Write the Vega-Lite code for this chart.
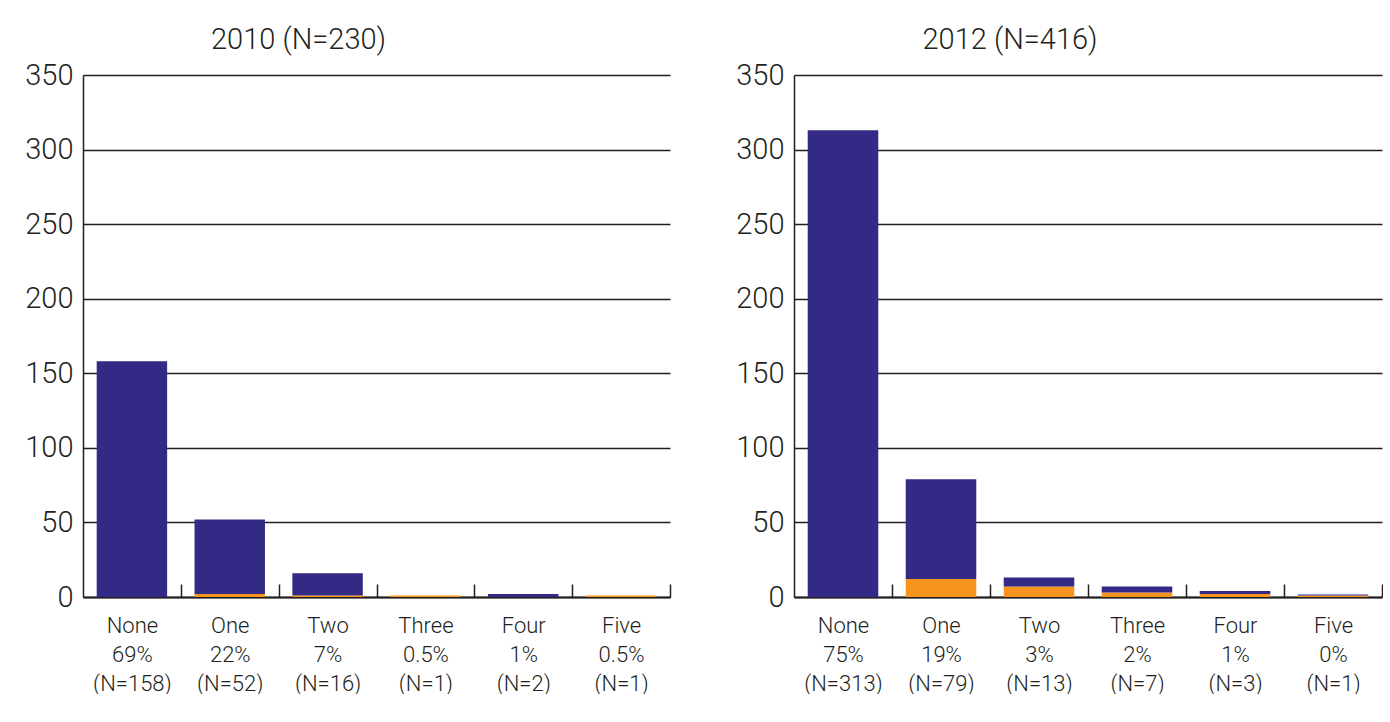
{
  "$schema": "https://vega.github.io/schema/vega-lite/v6.json",
  "padding": {"left": 24, "top": 26, "right": 0, "bottom": 0},
  "background": "white",
  "datasets": {
    "y2010": [
      {"cat": "None|69%|(N=158)", "seg": "lower", "ord": 1, "count": 0},
      {"cat": "None|69%|(N=158)", "seg": "upper", "ord": 2, "count": 158},
      {"cat": "One|22%|(N=52)", "seg": "lower", "ord": 1, "count": 2},
      {"cat": "One|22%|(N=52)", "seg": "upper", "ord": 2, "count": 50},
      {"cat": "Two|7%|(N=16)", "seg": "lower", "ord": 1, "count": 1},
      {"cat": "Two|7%|(N=16)", "seg": "upper", "ord": 2, "count": 15},
      {"cat": "Three|0.5%|(N=1)", "seg": "lower", "ord": 1, "count": 1},
      {"cat": "Three|0.5%|(N=1)", "seg": "upper", "ord": 2, "count": 0},
      {"cat": "Four|1%|(N=2)", "seg": "lower", "ord": 1, "count": 0},
      {"cat": "Four|1%|(N=2)", "seg": "upper", "ord": 2, "count": 2},
      {"cat": "Five|0.5%|(N=1)", "seg": "lower", "ord": 1, "count": 1},
      {"cat": "Five|0.5%|(N=1)", "seg": "upper", "ord": 2, "count": 0}
    ],
    "y2012": [
      {"cat": "None|75%|(N=313)", "seg": "lower", "ord": 1, "count": 0},
      {"cat": "None|75%|(N=313)", "seg": "upper", "ord": 2, "count": 313},
      {"cat": "One|19%|(N=79)", "seg": "lower", "ord": 1, "count": 12},
      {"cat": "One|19%|(N=79)", "seg": "upper", "ord": 2, "count": 67},
      {"cat": "Two|3%|(N=13)", "seg": "lower", "ord": 1, "count": 7},
      {"cat": "Two|3%|(N=13)", "seg": "upper", "ord": 2, "count": 6},
      {"cat": "Three|2%|(N=7)", "seg": "lower", "ord": 1, "count": 3},
      {"cat": "Three|2%|(N=7)", "seg": "upper", "ord": 2, "count": 4},
      {"cat": "Four|1%|(N=3)", "seg": "lower", "ord": 1, "count": 2},
      {"cat": "Four|1%|(N=3)", "seg": "upper", "ord": 2, "count": 2},
      {"cat": "Five|0%|(N=1)", "seg": "lower", "ord": 1, "count": 1},
      {"cat": "Five|0%|(N=1)", "seg": "upper", "ord": 2, "count": 0.7}
    ]
  },
  "hconcat": [
    {
      "data": {"name": "y2010"},
      "width": 587,
      "height": 522,
      "title": {"text": "2010 (N=230)", "dx": -78},
      "mark": {"type": "bar", "width": {"band": 0.72}},
      "encoding": {
        "x": {"field": "cat", "type": "nominal", "sort": null, "title": null,
              "scale": {"paddingInner": 0, "paddingOuter": 0}},
        "y": {"field": "count", "type": "quantitative", "stack": "zero", "title": null,
              "scale": {"domain": [0, 350], "nice": false},
              "axis": {"values": [0, 50, 100, 150, 200, 250, 300, 350]}},
        "color": {"field": "seg", "type": "nominal", "legend": null,
                  "scale": {"domain": ["lower", "upper"], "range": ["#f7941d", "#332a85"]}},
        "order": {"field": "ord", "type": "quantitative"}
      }
    },
    {
      "data": {"name": "y2012"},
      "width": 588,
      "height": 522,
      "title": {"text": "2012 (N=416)", "dx": -78},
      "mark": {"type": "bar", "width": {"band": 0.72}},
      "encoding": {
        "x": {"field": "cat", "type": "nominal", "sort": null, "title": null,
              "scale": {"paddingInner": 0, "paddingOuter": 0}},
        "y": {"field": "count", "type": "quantitative", "stack": "zero", "title": null,
              "scale": {"domain": [0, 350], "nice": false},
              "axis": {"values": [0, 50, 100, 150, 200, 250, 300, 350]}},
        "color": {"field": "seg", "type": "nominal", "legend": null,
                  "scale": {"domain": ["lower", "upper"], "range": ["#f7941d", "#332a85"]}},
        "order": {"field": "ord", "type": "quantitative"}
      }
    }
  ],
  "spacing": 64,
  "config": {
    "font": "Roboto",
    "view": {"stroke": null},
    "title": {"fontSize": 29, "fontWeight": 300, "color": "#231f20", "offset": 6, "font": "Roboto"},
    "axisX": {
      "labelAngle": 0, "labelFontSize": 22, "labelFont": "Roboto", "labelFontWeight": 300,
      "labelColor": "#231f20", "labelLineHeight": 29, "labelPadding": 31,
      "labelExpr": "datum.value ? split(datum.value, '|') : ''",
      "tickBand": "extent", "tickSize": -13, "tickColor": "#231f20", "tickWidth": 1.5,
      "tickOpacity": {"expr": "datum.value ? 1 : 0"},
      "domainColor": "#231f20", "domainWidth": 2, "grid": false
    },
    "axisY": {
      "labelFontSize": 29, "labelFont": "Roboto", "labelFontWeight": 300,
      "labelColor": "#231f20", "labelPadding": 10, "ticks": false,
      "domainColor": "#231f20", "domainWidth": 1.5,
      "grid": true, "gridColor": "#231f20", "gridWidth": 1.5, "gridOpacity": 1
    }
  }
}
